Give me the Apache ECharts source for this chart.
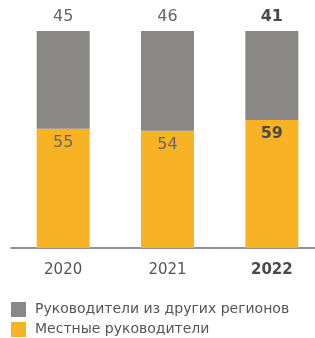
<!DOCTYPE html>
<html>
<head>
<meta charset="utf-8">
<script src="https://cdn.jsdelivr.net/npm/echarts@6/dist/echarts.min.js"></script>
<style>
  html, body { margin: 0; padding: 0; background: #fff; }
  #chart { width: 315px; height: 338px; }
</style>
</head>
<body>
<div id="chart"></div>
<script>
const years = ['2020', '2021', '2022']
const otherRegions = [45, 46, 41]
const localHeads = [55, 54, 59]
const seriesNames = ['Руководители из других регионов', 'Местные руководители']
const boldYear = '2022'

const font = 'DejaVu Sans'

function withBold(values, labelCfg) {
    return values.map((v, i) => years[i] === boldYear
        ? { value: v, label: Object.assign({}, labelCfg, { fontWeight: 'bold', color: '#4a4a4a' }) }
        : v)
}

function legendItem(name, top) {
    return {
        left: 6,
        top: top,
        itemWidth: 15,
        itemHeight: 15,
        icon: 'rect',
        textStyle: { fontFamily: font, fontSize: 14, color: '#555', padding: [0, 0, 0, 4] },
        data: [name]
    }
}

const chart = echarts.init(document.getElementById('chart'))
chart.setOption({
    animation: false,
    textStyle: { fontFamily: font },
    grid: { left: 11, top: 31, width: 313, height: 217, outerBoundsMode: 'none', containLabel: false },
    legend: [legendItem(seriesNames[0], 297), legendItem(seriesNames[1], 317)],
    xAxis: {
        type: 'category',
        data: years,
        axisLine: { lineStyle: { color: '#6e6e6e', width: 1.5 } },
        axisTick: { show: false },
        axisLabel: {
            margin: 15,
            fontSize: 15,
            color: '#555',
            formatter: v => v === boldYear ? '{b|' + v + '}' : v,
            rich: { b: { fontSize: 15, fontWeight: 'bold', color: '#4a4a4a', fontFamily: font } }
        }
    },
    yAxis: {
        type: 'value',
        min: 0,
        max: 100,
        show: false,
        splitLine: { show: false }
    },
    series: [
        {
            name: seriesNames[1],
            type: 'bar',
            stack: 'total',
            barWidth: 53,
            itemStyle: { color: '#f8b324' },
            label: { show: true, position: 'insideTop', distance: 6, fontSize: 16, color: '#666' },
            data: withBold(localHeads, { show: true, position: 'insideTop', distance: 6, fontSize: 16 })
        },
        {
            name: seriesNames[0],
            type: 'bar',
            stack: 'total',
            barWidth: 53,
            itemStyle: { color: '#8a8886' },
            label: { show: true, position: 'top', distance: 6, fontSize: 16, color: '#666' },
            data: withBold(otherRegions, { show: true, position: 'top', distance: 6, fontSize: 16 })
        }
    ]
})
</script>
</body>
</html>
